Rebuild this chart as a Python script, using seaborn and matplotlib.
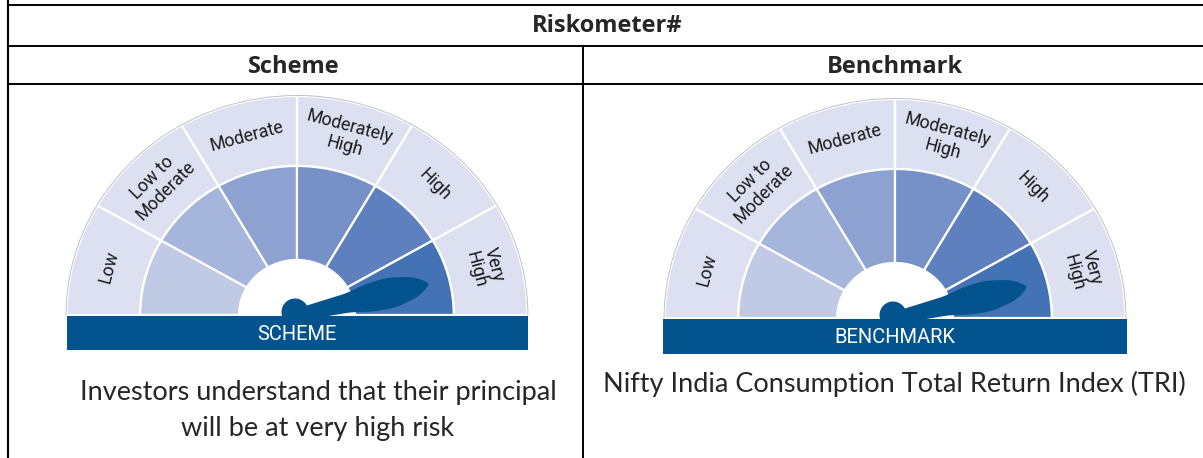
import numpy as np
import matplotlib
matplotlib.use("Agg")
import matplotlib.pyplot as plt
import seaborn as sns
from matplotlib.patches import Polygon, Rectangle, Ellipse

# riskometer data
risk_levels = ["Low", "Low to\nModerate", "Moderate", "Moderately\nHigh", "High", "Very\nHigh"]
band_colors = ["#c1cae5", "#a6b5dc", "#8ea2d1", "#7691c8", "#5f80bf", "#4373b4"]
panels = ["Scheme", "Benchmark"]
bar_labels = ["SCHEME", "BENCHMARK"]
panel_levels = ["Very\nHigh", "Very\nHigh"]
notes = ["Investors understand that their principal\nwill be at very high risk",
         "Nifty India Consumption Total Return Index (TRI)"]
table_title = "Riskometer#"

outer_col = "#dde0f1"
dark_blue = "#03538f"

# needle outline (distance along the pointer, half width), in px
needle_t = [0, 12, 50, 70, 85, 95, 115, 124, 127, 129]
needle_w = [6, 7, 9.7, 14, 15.3, 15, 10.5, 5.5, 3, 0]

sns.set_theme(style="white")
plt.rcParams['font.family'] = ['Roboto', 'DejaVu Sans']

fig = plt.figure(figsize=(12.03, 4.58), dpi=100)
ax = fig.add_axes([0, 0, 1, 1])
ax.set_xlim(0, 1203)
ax.set_ylim(458, 0)
ax.axis("off")


def ell(cx, cy, sx, r, a0, a1, n=60):
    t = np.radians(np.linspace(a0, a1, n))
    return np.column_stack([cx + sx * r * np.cos(t), cy - r * np.sin(t)])


def gauge(cx, cy, sx, bar_w, bar_h, bar_text, level):
    r_out, r_mid, r_in = 219, 149, 55
    n = len(risk_levels)
    step = 180 / n
    for i in range(n):
        a1 = 180 - i * step
        a0 = a1 - step
        pts = np.vstack([ell(cx, cy, sx, r_out, a1, a0), ell(cx, cy, sx, r_mid, a0, a1)])
        ax.add_patch(Polygon(pts, closed=True, fc=outer_col, ec="white", lw=1.6, zorder=2))
        pts = np.vstack([ell(cx, cy, sx, r_mid, a1, a0), ell(cx, cy, sx, r_in, a0, a1)])
        ax.add_patch(Polygon(pts, closed=True, fc=band_colors[i], ec="white", lw=1.6, zorder=2))
        am = np.radians((a0 + a1) / 2)
        rl = (r_out + r_mid) / 2 + 1
        ax.text(cx + sx * rl * np.cos(am), cy - rl * np.sin(am), risk_levels[i],
                rotation=np.degrees(am) - 90, rotation_mode="anchor",
                ha="center", va="center", fontsize=12.8, color="#1c1c1c",
                linespacing=1.1, zorder=4)
    arc = ell(cx, cy, sx, r_out + 0.5, 0, 180, 120)
    ax.plot(arc[:, 0], arc[:, 1], color="#b8b8c0", lw=0.6, zorder=3)

    # needle
    idx = risk_levels.index(level)
    th = np.radians(180 - (idx + 0.5) * step - 1)
    t = np.linspace(0, needle_t[-1], 200)
    w = np.interp(t, needle_t, needle_w)
    k = np.ones(15) / 15
    ws = np.convolve(np.pad(w, 7, mode="edge"), k, mode="valid")
    ws[-25:] = np.minimum(ws[-25:], w[-25:])
    ws[-1] = 0
    loc = np.vstack([np.column_stack([t, ws]), np.column_stack([t[::-1], -ws[::-1]])])
    px = cx + sx * (loc[:, 0] * np.cos(th) - loc[:, 1] * np.sin(th))
    py = cy - (loc[:, 0] * np.sin(th) + loc[:, 1] * np.cos(th))
    ax.add_patch(Polygon(np.column_stack([px, py]), closed=True, fc=dark_blue, ec="none", zorder=5))
    ax.add_patch(Ellipse((cx - 2, cy - 3), 27, 27, fc=dark_blue, ec="none", zorder=5))

    # bottom bar
    ax.add_patch(Rectangle((cx - bar_w / 2, cy + 1), bar_w, bar_h, fc=dark_blue, ec="none", zorder=6))
    ax.text(cx, cy + 1 + bar_h / 2 + 1, bar_text, ha="center", va="center",
            fontsize=14.5, color="white", zorder=7)


gauge(297, 315, 1.052, 461, 34, bar_labels[0], panel_levels[0])
gauge(895, 318, 1.052, 464, 35, bar_labels[1], panel_levels[1])

# table frame
lc = "black"
for yy in [5, 46, 84]:
    ax.plot([8, 1203], [yy, yy], color=lc, lw=1.4, solid_capstyle="butt")
ax.plot([8, 8], [0, 458], color=lc, lw=1.5)
ax.plot([583, 583], [46, 458], color=lc, lw=1.4)

hfont = ['Open Sans', 'DejaVu Sans']
ax.text(607, 32, table_title, ha="center", va="baseline", fontsize=17, fontweight="bold", family=hfont)
ax.text(294, 73, panels[0], ha="center", va="baseline", fontsize=17, fontweight="bold", family=hfont)
ax.text(895, 73, panels[1], ha="center", va="baseline", fontsize=17, fontweight="bold", family=hfont)

nfont = ['Lato', 'DejaVu Sans']
for k, line in enumerate(notes[0].split("\n")):
    ax.text(318, 400 + k * 36, line, ha="center", va="baseline", fontsize=19.5, family=nfont)
ax.text(894, 392, notes[1], ha="center", va="baseline", fontsize=19.5, family=nfont)

fig.savefig("out.png", dpi=100)
